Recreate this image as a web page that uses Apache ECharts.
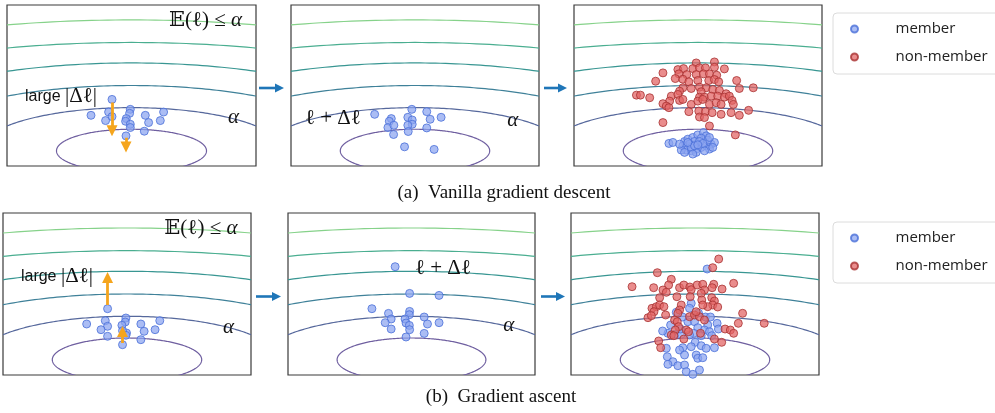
<!DOCTYPE html>
<html><head><meta charset="utf-8">
<script src="https://cdn.jsdelivr.net/npm/echarts@6/dist/echarts.min.js"></script>
<style>html,body{margin:0;padding:0;background:#fff}#c{width:995px;height:413px}</style>
</head><body><div id="c"></div>
<script>
// ---------- data (panel-local units: x 0..249 left→right, y 0..162 top→bottom) ----------
const contourCenter = [124.5, 146.7];
const contourRadii = [[75, 21.7], [152.3, 43.4], [227.7, 65.7], [292.6, 88.4], [393, 109], [456, 131.7]];
const contourColors = ['#6f5fa0', '#56689c', '#3f8199', '#389692', '#4aae90', '#86d28a'];

const a1Member = [[105,95],[84,111],[101.6,107.7],[105,112.3],[98.6,116.3],[123.3,105],[122.6,109],[119.3,114.3],[118.6,117],[123.3,120],[123.3,123.3],[138.3,111],[141.6,118.3],[156.6,107.7],[153.3,116.3],[137.3,127],[119,131.7]];
const a2Member = [[84,110],[100.7,114.3],[98.7,117],[97.3,123.3],[103.3,121],[103,130.3],[121.3,105],[136.3,107.3],[117.3,113],[121.7,115.7],[121.7,120],[117.3,121],[117.7,127.3],[139.7,115],[150.7,113],[136.3,123.7],[114,142.7],[143.7,145.3]];
const a3Member = [[95.3,139.3],[99.3,138.3],[111,137.3],[114.3,135],[119.3,133.3],[124.3,130.7],[130,128.3],[132.7,131.7],[127.7,134],[121,137.3],[116,140],[109.3,141.7],[112.7,146],[107.7,146],[117.7,146.7],[122.7,145],[127.7,143.3],[132.7,141.7],[137.7,140],[141,138.3],[136,145],[131,146.7],[122.7,148.3],[126,137.3],[134.3,136],[117.7,143.3],[111,148.3],[129.3,139.3],[121,141.7],[136,133.3],[114.3,138.3],[124.3,140.7],[106,140],[139.3,143.3],[119.3,150]];
const a3NonMember = [[122.7,58.3],[141,57.3],[104.3,65],[110,64],[119.3,64],[126,63.3],[132,63.3],[141,62.7],[151,64.3],[89.3,68.3],[105.3,69.3],[113.3,70],[122.7,70],[130,69.3],[136,69.3],[143.3,70.7],[101.7,74],[109.3,74.7],[115.3,77.3],[124.3,76],[135.3,76],[141,75],[145.3,77.3],[82,76.7],[163.3,76],[109.3,83.3],[117.7,84],[126,82.7],[132.7,83.3],[139.3,85],[146,86],[152.7,89.3],[166,84],[180,83.3],[106,86.7],[127.7,87.3],[62.7,90.7],[66.7,90.7],[76,93.3],[97.7,91.7],[104.3,90],[106,96],[109.3,95],[126,92.7],[131,92.7],[137.7,91.7],[144.3,91.7],[151,92.7],[156,91.7],[158.7,96],[96,96.7],[89.3,99.3],[92.7,101.7],[117.7,100],[124.3,96.7],[129.3,95],[136,100],[142.7,98.3],[147.7,100],[160,100],[95.3,103.3],[115.3,107.3],[125.3,106.7],[132,107.3],[138.7,108.3],[147.7,110],[157.7,108.3],[166,111],[175.3,106],[126,112.7],[131,113.3],[89.3,118.3],[136,121.7],[162,130.7]];

const b1Member = [[105,95.7],[84,111],[102.7,107.7],[105,113.3],[98.4,116.7],[105,123.3],[123.4,105],[122.7,109],[119.4,112.3],[124,120],[120,131.7],[138.4,111],[141.7,118.3],[138.4,126.7],[152.7,116.7],[157.4,107.7],[120,117.7],[123.4,122.3]];
const b2Member = [[108,53.7],[122.6,80.4],[152.3,82.4],[84.6,95.7],[122.6,98.4],[122.3,101.7],[101.3,100.4],[104,106],[98,109.7],[118,106],[119,110],[122.3,112.4],[122.6,116.7],[137.3,104],[140.6,111],[152.3,109.7],[137.3,120.4],[104,116],[119,124]];
const b3Member = [[136.7,56],[120.7,90.3],[119,95.3],[105.7,99.3],[117.3,108.7],[124,108.7],[146.7,110.3],[137.3,112],[127.3,114.7],[134,117],[139,118.7],[123.3,120.3],[97.3,120.3],[104,121.3],[110.7,121.3],[119,122],[130.7,122.7],[141.3,122.7],[124.7,129.3],[130.7,132.7],[135.7,135.3],[144,134.7],[120.7,133.7],[112.3,134.7],[109,137],[95.7,135.3],[114,142],[96.7,143.7],[102.3,148.7],[125.7,142],[127.3,145.3],[132.3,144.7],[97.3,151.3],[107.3,152.7],[114,152],[129,157],[115.7,158.7],[122.3,161.3],[112,104],[128,100],[135,104],[100,112],[110,116],[140,104],[148,116],[92,118]];
const b3NonMember = [[148.3,46],[142.3,54.7],[86.7,59.7],[61.3,73.7],[83,74.7],[100.7,66.3],[98,72],[92.3,77],[95.7,79.3],[109,74.7],[113.3,72],[119.3,74],[120.7,76.7],[126.7,72],[132.3,71.3],[134,77],[130.7,80.3],[143.3,71.3],[141.7,74.7],[151.7,76],[163.3,70.3],[89,84.7],[106.3,83.7],[119.7,83.7],[131.3,87],[141.3,84.7],[144,88],[142.3,92],[147.3,94],[137.3,93.7],[132.3,92],[110.7,92],[109,97],[107.3,100.3],[81.3,95.3],[85.7,93.7],[89,92],[93.3,93.7],[83.3,98.7],[77.3,104.7],[80.7,102.7],[95,102],[104,107],[106.7,108.7],[119,103.7],[124,102],[129,103.7],[125.7,98.7],[134,107],[172.3,100.3],[168,110.3],[194,110.3],[108,113.7],[104.7,117],[100.7,122],[103.3,122.7],[115.7,117],[118,118.7],[113.3,126],[130,120.3],[144,126],[151.3,129.3],[154.7,116],[160,117],[163.3,120.3],[88,128],[90,134.7]];

// |Δℓ| arrows (start, end) in panel units
const a1Arrows = [[[105,98],[105,126.5]], [[119,133.5],[119,143]]];
const b1Arrows = [[[105,92],[105,64.5]], [[120,130],[120,118.5]]];

const captions = ['(a)  Vanilla gradient descent', '(b)  Gradient ascent'];
const legendNames = ['member', 'non-member'];

// ---------- layout ----------
const grids = [
  {left:7, top:5, width:249, height:161},
  {left:291, top:5, width:248, height:161},
  {left:574, top:5, width:248, height:161},
  {left:3, top:213, width:248, height:162},
  {left:288, top:213, width:247, height:162},
  {left:571, top:213, width:248, height:162}
];

const SERIF = "'Liberation Serif','DejaVu Serif',serif";
const RICH = {
  m: {fontFamily: SERIF, fontSize: 21, fill: '#111'},
  mi: {fontFamily: SERIF, fontSize: 21, fontStyle: 'italic', fill: '#111'},
  s: {fontFamily: "'Liberation Sans',Arial,sans-serif", fontSize: 16, fill: '#111'}
};
const annots = [
  [{x:162, y:15.7, t:'{m|𝔼(ℓ) ≤ }{mi|α}'}, {x:18, y:91.7, t:'{s|large }{m||Δℓ|}'}, {x:221, y:113.5, t:'{mi|α}'}],
  [{x:14, y:114.3, t:'{m|ℓ + Δℓ}'}, {x:217, y:115.7, t:'{mi|α}'}],
  [],
  [{x:162, y:15.7, t:'{m|𝔼(ℓ) ≤ }{mi|α}'}, {x:18, y:63.4, t:'{s|large }{m||Δℓ|}'}, {x:221, y:114.4, t:'{mi|α}'}],
  [{x:128, y:55, t:'{m|ℓ + Δℓ}'}, {x:217, y:112.4, t:'{mi|α}'}],
  []
];

const memberStyle = {color:'rgba(138,164,240,0.9)', borderColor:'#4a6fd8', borderWidth:1};
const nonStyle = {color:'rgba(226,100,100,0.92)', borderColor:'#a83232', borderWidth:1};

const series = [];
const xAxes = [], yAxes = [];
grids.forEach((g, i) => {
  xAxes.push({type:'value', gridIndex:i, min:0, max:249, show:false});
  yAxes.push({type:'value', gridIndex:i, min:0, max:162, inverse:true, show:false});
  series.push({
    type:'custom', xAxisIndex:i, yAxisIndex:i, clip:true, silent:true, z:1,
    data: contourRadii.map(r => [contourCenter[0], contourCenter[1], r[0], r[1]]),
    renderItem: (params, api) => {
      const c = api.coord([api.value(0), api.value(1)]);
      const s = api.size([api.value(2), api.value(3)]);
      const pts = [];
      for (let k = 0; k <= 360; k++) {
        const t = k * Math.PI / 180;
        pts.push([c[0] + s[0] * Math.cos(t), c[1] + s[1] * Math.sin(t)]);
      }
      return {type:'polyline', shape:{points:pts},
        style:{fill:null, stroke:contourColors[params.dataIndex], lineWidth:1.2}};
    }
  });
  const list = annots[i];
  if (list.length) series.push({
    type:'custom', xAxisIndex:i, yAxisIndex:i, clip:false, silent:true, z:6,
    data: list.map(a => [a.x, a.y]),
    renderItem: (params, api) => {
      const a = list[params.dataIndex];
      const c = api.coord([api.value(0), api.value(1)]);
      return {type:'text', x:c[0], y:c[1], style:{text:a.t, rich:RICH, align:'left', verticalAlign:'middle', fill:'#111'}};
    }
  });
});

const memberSets = [a1Member, a2Member, a3Member, b1Member, b2Member, b3Member];
const nonSets = [null, null, a3NonMember, null, null, b3NonMember];
memberSets.forEach((d, i) => {
  series.push({type:'scatter', name:legendNames[0], xAxisIndex:i, yAxisIndex:i, data:d, symbolSize:8, itemStyle:memberStyle, z:2, silent:true});
  if (nonSets[i]) series.push({type:'scatter', name:legendNames[1], xAxisIndex:i, yAxisIndex:i, data:nonSets[i], symbolSize:8, itemStyle:nonStyle, z:3, silent:true});
});

[[0, a1Arrows], [3, b1Arrows]].forEach(([gi, arr]) => {
  series.push({
    type:'lines', coordinateSystem:'cartesian2d', xAxisIndex:gi, yAxisIndex:gi, z:5, silent:true,
    symbol:['none','triangle'], symbolSize:[11,11],
    lineStyle:{color:'#f5a51d', width:2.8, opacity:1, curveness:0},
    data: arr.map(c => ({coords:c}))
  });
});

function blueArrow(x1, x2, y) {
  return {type:'group', silent:true, children:[
    {type:'line', shape:{x1:x1, y1:y, x2:x2-7, y2:y}, style:{stroke:'#1f76b8', lineWidth:2.6}},
    {type:'polygon', shape:{points:[[x2-9,y-4.5],[x2,y],[x2-9,y+4.5]]}, style:{fill:'#1f76b8'}}
  ]};
}

const legendCommon = {
  orient:'vertical', left:833, itemWidth:20, itemHeight:7, itemGap:12,
  padding:[8, 30, 9, 17], borderColor:'#dcdcdc', borderWidth:1, borderRadius:4,
  selectedMode:false, icon:'circle',
  textStyle:{fontFamily:"'Open Sans','Noto Sans',sans-serif", fontSize:15, lineHeight:16, color:'#222', padding:[0,0,0,26]},
  data: legendNames
};

const option = {
  animation:false,
  backgroundColor:'#fff',
  grid: grids.map(g => Object.assign({show:true, borderColor:'#3a3a3a', borderWidth:1.2, backgroundColor:'transparent'}, g)),
  xAxis: xAxes, yAxis: yAxes,
  legend: [Object.assign({top:13}, legendCommon), Object.assign({top:222}, legendCommon)],
  graphic: [
    blueArrow(259, 284, 88), blueArrow(544, 567, 88),
    blueArrow(256, 281, 296.5), blueArrow(541, 565, 296.5),
    {type:'text', x:504, y:193, style:{text:captions[0], font:"19px 'Liberation Serif',serif", fill:'#111', align:'center', verticalAlign:'middle'}},
    {type:'text', x:501, y:397, style:{text:captions[1], font:"19px 'Liberation Serif',serif", fill:'#111', align:'center', verticalAlign:'middle'}}
  ],
  series: series
};
const chart = echarts.init(document.getElementById('c'), null, {renderer:'canvas'});
chart.setOption(option);
</script>
</body></html>
